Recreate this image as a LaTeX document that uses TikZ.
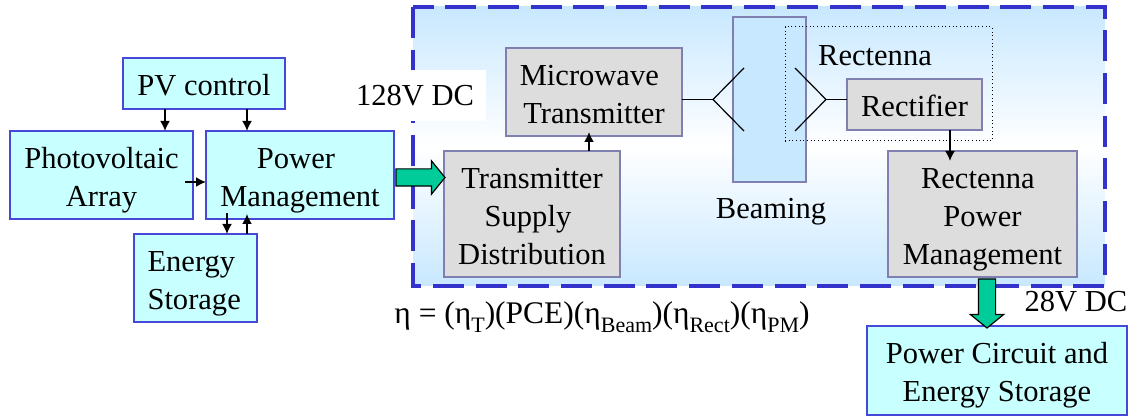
\documentclass[tikz,border=0pt]{standalone}
\usepackage{fontspec}
\setmainfont{Liberation Serif}
\usetikzlibrary{arrows.meta,shapes.arrows}
\definecolor{boxcyan}{HTML}{C8FFFF}
\definecolor{boxline}{HTML}{4848D8}
\definecolor{boxgrey}{HTML}{DDDDDD}
\definecolor{greyline}{HTML}{8080B0}
\definecolor{paleblue}{HTML}{C8E8FF}
\definecolor{frameblue}{HTML}{3333CC}
\definecolor{busgreen}{HTML}{00CC99}
\def\px{.75pt}
\newcommand{\subtxt}[1]{\raisebox{-.6ex}{\fontsize{16.5}{16.5}\selectfont #1}}
\newcommand{\lowln}{\rule{0pt}{18.5pt}}
\tikzset{
	block/.style={rectangle,inner sep=0pt,outer sep=0pt,align=center},
	textblock/.style={block,text depth=0pt,execute at begin node={\rule{0pt}{17.5pt}}},
	cyanbox/.style={textblock,draw=boxline,fill=boxcyan,line width=1.6*\px},
	greybox/.style={textblock,draw=greyline,fill=boxgrey,line width=1.4*\px},
	sig/.style={-{Latex[length=10*\px,width=10*\px]},line width=1.8*\px},
	wire/.style={line width=1.2*\px},
	fatarrow/.style={single arrow,draw=black,fill=busgreen,line width=1.2*\px,inner sep=8*\px,outer sep=0pt,minimum height=49*\px,single arrow head extend=8*\px,single arrow tip angle=102,single arrow head indent=0pt}
}
\begin{document}
\begin{tikzpicture}[x=.75pt,y=-.75pt,font=\fontsize{22.9}{28.5}\selectfont]
	\useasboundingbox (0,0) rectangle (1133,416);
	% outer frame
	\path[top color=paleblue,bottom color=paleblue,middle color=white] (413,7) rectangle (1105,286);
	\draw[draw=frameblue,line width=4*\px,dash pattern=on 31*\px off 11.7*\px] (413,7) rectangle (1105,286);
	\node[block,fill=white,minimum width=141*\px,minimum height=51*\px] (dc128) at (415,96) {128V DC};

	% left part
	\node[cyanbox,minimum width=162*\px,minimum height=51*\px] (pv) at (204,83.5) {PV control};
	\node[cyanbox,minimum width=183*\px,minimum height=88*\px] (array) at (101.5,175) {\lowln Photovoltaic\\Array};
	\node[cyanbox,minimum width=188*\px,minimum height=88*\px] (pm) at (300,175) {\lowln Power\kern6pt\\Management};
	\node[cyanbox,minimum width=123*\px,minimum height=88*\px,align=left] (store) at (195.5,278) {\lowln Energy\\Storage\kern2pt};
	\draw[sig] (pv.south -| 165,0) -- (array.north -| 165,0);
	\draw[sig] (pv.south -| 247,0) -- (pm.north -| 247,0);
	\draw[sig] (185,182) -- (pm.west |- 0,182);
	\draw[sig] (227,213) -- (store.north -| 227,0);
	\draw[sig] (store.north -| 247,0) -- (247,214);

	% transmitter side
	\node[greybox,minimum width=176*\px,minimum height=88*\px] (mw) at (594,92) {\lowln Microwave\kern7pt\\Transmitter};
	\node[greybox,minimum width=176*\px,minimum height=126*\px] (supply) at (532,214) {\lowln Transmitter\\Supply\kern6pt\\Distribution};
	\draw[sig] (supply.north -| 589,0) -- (589,132);
	\node[fatarrow] (bus) at (417,177.5) {};

	% beam
	\node[block,draw=greyline,fill=paleblue,line width=1.4*\px,minimum width=73*\px,minimum height=165*\px] (beam) at (769.5,99.5) {};
	\node (beamtxt) at (771,212) {Beaming};
	\node[block,draw=black,dotted,line width=1*\px,minimum width=207*\px,minimum height=114*\px] (rect) at (888.5,84) {};
	\node (recttxt) at (875,56) {Rectenna};
	\node[greybox,minimum width=135*\px,minimum height=51*\px] (rf) at (914.5,104.5) {Rectifier};
	\coordinate (txant) at (713,99.5);
	\coordinate (rxant) at (826,99.5);
	\draw[wire] (mw.east |- txant) -- (txant);
	\draw[wire] (744,68) -- (txant) -- (744,131);
	\draw[wire] (795,68) -- (rxant) -- (795,131);
	\draw[wire] (rxant) -- (rf.west |- rxant);

	% receiver side
	\node[greybox,minimum width=189*\px,minimum height=126*\px] (rpm) at (982.5,214) {\lowln Rectenna\kern7pt\\Power\\Management};
	\draw[sig] (rf.south -| 950,0) -- (950,161);
	\node[cyanbox,minimum width=260*\px,minimum height=89*\px] (load) at (997,370.5) {\lowln Power Circuit and\\Energy Storage};
	\node[fatarrow,shape border rotate=270] (out) at (987,300) {};
	\node (dc28) at (1076,302) {28V DC};
	\node[font=\fontsize{23.6}{28.5}\selectfont] (eff) at (602,317) {η = (η\subtxt{T})(PCE)(η\subtxt{Beam})(η\subtxt{Rect})(η\subtxt{PM})};
\end{tikzpicture}
\end{document}
